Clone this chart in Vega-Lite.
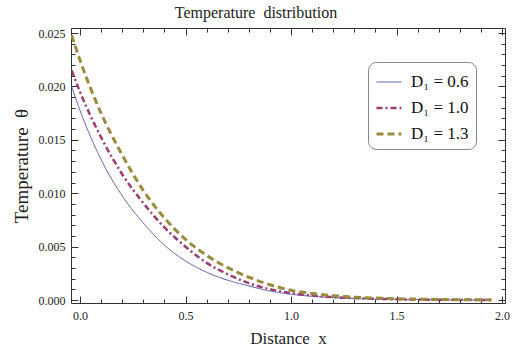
{
  "$schema": "https://vega.github.io/schema/vega-lite/v6.json",
  "autosize": {"type": "none"},
  "padding": {"left": 71, "top": 28, "right": 8, "bottom": 55},
  "width": 434,
  "height": 275,
  "background": "white",
  "title": {"text": "Temperature\u00a0\u00a0distribution", "font": "Liberation Serif", "fontSize": 16, "fontWeight": "normal", "color": "#222", "offset": 6, "anchor": "middle", "frame": "group", "dx": -32},
  "config": {
    "view": {"stroke": "#333", "strokeWidth": 1},
    "axis": {"grid": false, "domain": false, "labelFont": "Liberation Serif", "labelFontSize": 12, "labelColor": "#222", "tickColor": "#333", "titleFont": "Liberation Serif", "titleFontSize": 17, "titleFontWeight": "normal", "titleColor": "#222"}
  },
  "data": {"values": [
    {"x": -0.04, "y": 0.0200, "s": "D₁ = 0.6"},
    {"x": 0.0, "y": 0.01774, "s": "D₁ = 0.6"},
    {"x": 0.1, "y": 0.01314, "s": "D₁ = 0.6"},
    {"x": 0.2, "y": 0.00974, "s": "D₁ = 0.6"},
    {"x": 0.3, "y": 0.00721, "s": "D₁ = 0.6"},
    {"x": 0.4, "y": 0.00513, "s": "D₁ = 0.6"},
    {"x": 0.5, "y": 0.00365, "s": "D₁ = 0.6"},
    {"x": 0.6, "y": 0.0026, "s": "D₁ = 0.6"},
    {"x": 0.7, "y": 0.00185, "s": "D₁ = 0.6"},
    {"x": 0.8, "y": 0.00132, "s": "D₁ = 0.6"},
    {"x": 0.9, "y": 0.00084, "s": "D₁ = 0.6"},
    {"x": 1.0, "y": 0.00054, "s": "D₁ = 0.6"},
    {"x": 1.1, "y": 0.00035, "s": "D₁ = 0.6"},
    {"x": 1.2, "y": 0.00022, "s": "D₁ = 0.6"},
    {"x": 1.3, "y": 0.00014, "s": "D₁ = 0.6"},
    {"x": 1.4, "y": 0.00009, "s": "D₁ = 0.6"},
    {"x": 1.5, "y": 0.00006, "s": "D₁ = 0.6"},
    {"x": 1.6, "y": 0.00004, "s": "D₁ = 0.6"},
    {"x": 1.7, "y": 0.00002, "s": "D₁ = 0.6"},
    {"x": 1.8, "y": 0.00001, "s": "D₁ = 0.6"},
    {"x": 1.9, "y": 0.00001, "s": "D₁ = 0.6"},
    {"x": 1.95, "y": 0.0, "s": "D₁ = 0.6"},
    {"x": -0.04, "y": 0.0215, "s": "D₁ = 1.0"},
    {"x": 0.0, "y": 0.01947, "s": "D₁ = 1.0"},
    {"x": 0.1, "y": 0.01522, "s": "D₁ = 1.0"},
    {"x": 0.2, "y": 0.01177, "s": "D₁ = 1.0"},
    {"x": 0.3, "y": 0.00907, "s": "D₁ = 1.0"},
    {"x": 0.4, "y": 0.0068, "s": "D₁ = 1.0"},
    {"x": 0.5, "y": 0.00499, "s": "D₁ = 1.0"},
    {"x": 0.6, "y": 0.00348, "s": "D₁ = 1.0"},
    {"x": 0.7, "y": 0.00241, "s": "D₁ = 1.0"},
    {"x": 0.8, "y": 0.00158, "s": "D₁ = 1.0"},
    {"x": 0.9, "y": 0.00101, "s": "D₁ = 1.0"},
    {"x": 1.0, "y": 0.00065, "s": "D₁ = 1.0"},
    {"x": 1.1, "y": 0.00042, "s": "D₁ = 1.0"},
    {"x": 1.2, "y": 0.00027, "s": "D₁ = 1.0"},
    {"x": 1.3, "y": 0.00018, "s": "D₁ = 1.0"},
    {"x": 1.4, "y": 0.00011, "s": "D₁ = 1.0"},
    {"x": 1.5, "y": 0.00007, "s": "D₁ = 1.0"},
    {"x": 1.6, "y": 0.00004, "s": "D₁ = 1.0"},
    {"x": 1.7, "y": 0.00003, "s": "D₁ = 1.0"},
    {"x": 1.8, "y": 0.00002, "s": "D₁ = 1.0"},
    {"x": 1.9, "y": 0.00001, "s": "D₁ = 1.0"},
    {"x": 1.95, "y": 0.00001, "s": "D₁ = 1.0"},
    {"x": -0.04, "y": 0.0248, "s": "D₁ = 1.3"},
    {"x": 0.0, "y": 0.02244, "s": "D₁ = 1.3"},
    {"x": 0.1, "y": 0.01747, "s": "D₁ = 1.3"},
    {"x": 0.2, "y": 0.01357, "s": "D₁ = 1.3"},
    {"x": 0.3, "y": 0.01025, "s": "D₁ = 1.3"},
    {"x": 0.4, "y": 0.00767, "s": "D₁ = 1.3"},
    {"x": 0.5, "y": 0.00568, "s": "D₁ = 1.3"},
    {"x": 0.6, "y": 0.00417, "s": "D₁ = 1.3"},
    {"x": 0.7, "y": 0.00303, "s": "D₁ = 1.3"},
    {"x": 0.8, "y": 0.00213, "s": "D₁ = 1.3"},
    {"x": 0.9, "y": 0.00143, "s": "D₁ = 1.3"},
    {"x": 1.0, "y": 0.00091, "s": "D₁ = 1.3"},
    {"x": 1.1, "y": 0.00061, "s": "D₁ = 1.3"},
    {"x": 1.2, "y": 0.00041, "s": "D₁ = 1.3"},
    {"x": 1.3, "y": 0.00027, "s": "D₁ = 1.3"},
    {"x": 1.4, "y": 0.00018, "s": "D₁ = 1.3"},
    {"x": 1.5, "y": 0.00012, "s": "D₁ = 1.3"},
    {"x": 1.6, "y": 0.00008, "s": "D₁ = 1.3"},
    {"x": 1.7, "y": 0.00005, "s": "D₁ = 1.3"},
    {"x": 1.8, "y": 0.00003, "s": "D₁ = 1.3"},
    {"x": 1.9, "y": 0.00002, "s": "D₁ = 1.3"},
    {"x": 1.95, "y": 0.00001, "s": "D₁ = 1.3"}
  ]},
  "resolve": {"axis": {"x": "independent", "y": "independent"}},
  "layer": [
    {
      "mark": {"type": "line", "strokeOpacity": 0},
      "encoding": {
        "x": {"field": "x", "type": "quantitative", "scale": {"domain": [-0.043, 2.014], "nice": false, "zero": false},
          "axis": {"orient": "bottom", "values": [0.1,0.2,0.3,0.4,0.6,0.7,0.8,0.9,1.1,1.2,1.3,1.4,1.6,1.7,1.8,1.9], "labels": false, "tickSize": -4, "title": null}},
        "y": {"field": "y", "type": "quantitative", "scale": {"domain": [-0.00028, 0.02547], "nice": false, "zero": false},
          "axis": {"orient": "left", "values": [0.001,0.002,0.003,0.004,0.006,0.007,0.008,0.009,0.011,0.012,0.013,0.014,0.016,0.017,0.018,0.019,0.021,0.022,0.023,0.024], "labels": false, "tickSize": -4, "title": null}},
        "detail": {"field": "s"}
      }
    },
    {
      "mark": {"type": "line", "strokeOpacity": 0},
      "encoding": {
        "x": {"field": "x", "type": "quantitative", "scale": {"domain": [-0.043, 2.014], "nice": false, "zero": false},
          "axis": {"orient": "bottom", "values": [0,0.5,1,1.5,2], "labels": false, "tickSize": -7, "title": null}},
        "y": {"field": "y", "type": "quantitative", "scale": {"domain": [-0.00028, 0.02547], "nice": false, "zero": false},
          "axis": {"orient": "left", "values": [0,0.005,0.01,0.015,0.02,0.025], "labels": false, "tickSize": -7, "title": null}},
        "detail": {"field": "s"}
      }
    },
    {
      "mark": {"type": "line", "strokeOpacity": 0},
      "encoding": {
        "x": {"field": "x", "type": "quantitative", "scale": {"domain": [-0.043, 2.014], "nice": false, "zero": false},
          "axis": {"orient": "top", "values": [0.1,0.2,0.3,0.4,0.6,0.7,0.8,0.9,1.1,1.2,1.3,1.4,1.6,1.7,1.8,1.9], "labels": false, "tickSize": -4, "title": null}},
        "y": {"field": "y", "type": "quantitative", "scale": {"domain": [-0.00028, 0.02547], "nice": false, "zero": false},
          "axis": {"orient": "right", "values": [0.001,0.002,0.003,0.004,0.006,0.007,0.008,0.009,0.011,0.012,0.013,0.014,0.016,0.017,0.018,0.019,0.021,0.022,0.023,0.024], "labels": false, "tickSize": -4, "title": null}},
        "detail": {"field": "s"}
      }
    },
    {
      "mark": {"type": "line", "strokeOpacity": 0},
      "encoding": {
        "x": {"field": "x", "type": "quantitative", "scale": {"domain": [-0.043, 2.014], "nice": false, "zero": false},
          "axis": {"orient": "top", "values": [0,0.5,1,1.5,2], "labels": false, "tickSize": -7, "title": null}},
        "y": {"field": "y", "type": "quantitative", "scale": {"domain": [-0.00028, 0.02547], "nice": false, "zero": false},
          "axis": {"orient": "right", "values": [0,0.005,0.01,0.015,0.02,0.025], "labels": false, "tickSize": -7, "title": null}},
        "detail": {"field": "s"}
      }
    },
    {
      "mark": {"type": "line", "clip": true, "interpolate": "monotone"},
      "encoding": {
        "x": {"field": "x", "type": "quantitative", "scale": {"domain": [-0.043, 2.014], "nice": false, "zero": false},
          "axis": {"orient": "bottom", "values": [0,0.5,1,1.5,2], "format": ".1f", "ticks": false, "labelPadding": 7, "title": "Distance\u00a0\u00a0x", "titlePadding": 9}},
        "y": {"field": "y", "type": "quantitative", "scale": {"domain": [-0.00028, 0.02547], "nice": false, "zero": false},
          "axis": {"orient": "left", "values": [0,0.005,0.01,0.015,0.02,0.025], "format": ".3f", "ticks": false, "labelPadding": 6, "title": "Temperature\u00a0\u00a0θ", "titleFontSize": 19, "titlePadding": 7}},
        "color": {"field": "s", "type": "nominal", "scale": {"domain": ["D₁ = 0.6", "D₁ = 1.0", "D₁ = 1.3"], "range": ["#5555aa", "#993d71", "#998b3d"]},
          "legend": {"orient": "none", "legendX": 297, "legendY": 34, "title": null, "symbolType": "stroke", "symbolSize": 625, "symbolStrokeWidth": 2.5, "labelFont": "Liberation Serif", "labelFontSize": 17, "labelColor": "#111", "labelOffset": 8, "padding": 7, "rowPadding": 4, "cornerRadius": 8, "strokeColor": "#888", "fillColor": "white"}},
        "strokeDash": {"field": "s", "type": "nominal", "scale": {"domain": ["D₁ = 0.6", "D₁ = 1.0", "D₁ = 1.3"], "range": [[1, 0], [6, 3, 2, 3], [7, 4]]}, "legend": null},
        "strokeWidth": {"field": "s", "type": "nominal", "scale": {"type": "ordinal", "domain": ["D₁ = 0.6", "D₁ = 1.0", "D₁ = 1.3"], "range": [1, 2.5, 3]}, "legend": null}
      }
    }
  ]
}
